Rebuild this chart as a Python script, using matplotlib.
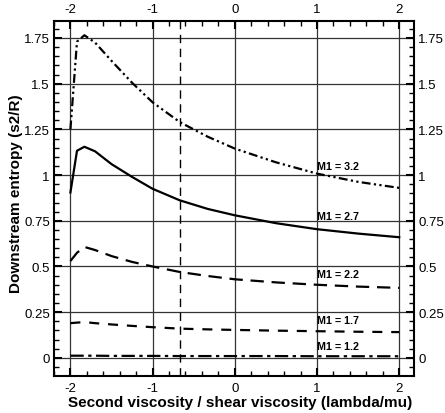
import matplotlib
matplotlib.use('Agg')
from matplotlib import pyplot as plt
from matplotlib.ticker import MultipleLocator, FormatStrFormatter
import numpy as np

plt.rcParams['font.family'] = ['Liberation Sans', 'DejaVu Sans']
plt.rcParams['axes.unicode_minus'] = False

#data
lam = [-2, -1.92, -1.83, -1.7, -1.5, -1.25, -1, -0.67, -0.33, 0, 0.5, 1, 1.5, 2]
s_m32 = [1.25, 1.73, 1.765, 1.725, 1.625, 1.505, 1.398, 1.29, 1.21, 1.145, 1.07, 1.008, 0.963, 0.93]
s_m27 = [0.905, 1.133, 1.155, 1.13, 1.06, 0.99, 0.925, 0.862, 0.815, 0.78, 0.737, 0.704, 0.68, 0.66]
s_m22 = [0.53, 0.575, 0.607, 0.59, 0.557, 0.525, 0.50, 0.47, 0.448, 0.43, 0.413, 0.40, 0.39, 0.383]
s_m17 = [0.19, 0.193, 0.196, 0.19, 0.183, 0.175, 0.168, 0.16, 0.156, 0.153, 0.149, 0.146, 0.143, 0.141]
s_m12 = [0.012, 0.012, 0.012, 0.012, 0.011, 0.011, 0.011, 0.01, 0.01, 0.01, 0.01, 0.009, 0.009, 0.009]
labels = ['M1 = 3.2', 'M1 = 2.7', 'M1 = 2.2', 'M1 = 1.7', 'M1 = 1.2']
label_y = [1.047, 0.778, 0.457, 0.21, 0.067]
lam_marker = -2/3

fig = plt.figure(figsize=(4.45, 4.14), dpi=100)
ax = fig.add_axes([0.1213, 0.0894, 0.809, 0.8575])

#grid first so the curves sit on top
ax.grid(True, which='major', color='#333333', linewidth=0.9)
ax.set_axisbelow(True)

ax.plot(lam, s_m32, color='black', lw=1.6, linestyle=(0, (4, 1.5, 1, 1.5, 1, 1.5)))
ax.plot(lam, s_m27, color='black', lw=1.6, linestyle='-')
ax.plot(lam, s_m22, color='black', lw=1.6, linestyle=(0, (6, 3.5)))
ax.plot(lam, s_m17, color='black', lw=1.6, linestyle=(0, (4.5, 4)))
ax.plot(lam, s_m12, color='black', lw=1.6, linestyle=(0, (6, 2, 1.5, 2)))
ax.axvline(lam_marker, color='black', lw=1.0, linestyle=(0, (6, 4)))

for txt, yy in zip(labels, label_y):
    ax.text(1.0, yy, txt, fontsize=7.7, fontweight='bold', ha='left', va='center')

ax.set_xlim(-2.2, 2.18)
ax.set_ylim(-0.099, 1.843)
ax.xaxis.set_major_locator(MultipleLocator(1))
ax.xaxis.set_minor_locator(MultipleLocator(0.2))
ax.yaxis.set_major_locator(MultipleLocator(0.25))
ax.yaxis.set_minor_locator(MultipleLocator(0.05))
ax.xaxis.set_major_formatter(FormatStrFormatter('%g'))
ax.yaxis.set_major_formatter(FormatStrFormatter('%g'))

ax.tick_params(which='both', direction='in', top=True, right=True,
               labeltop=True, labelright=True, labelsize=9.5)
ax.tick_params(which='major', length=6, width=1.5)
ax.tick_params(which='minor', length=3.5, width=1)
ax.tick_params(axis='y', pad=3)
ax.tick_params(axis='x', pad=4)
for sp in ax.spines.values():
    sp.set_linewidth(1.5)

ax.set_xlabel('Second viscosity / shear viscosity (lambda/mu)', fontsize=11, fontweight='bold')
ax.set_ylabel('Downstream entropy (s2/R)', fontsize=11, fontweight='bold')
ax.xaxis.set_label_coords(0.517, -0.073)
ax.yaxis.set_label_coords(-0.105, 0.515)
ax.xaxis.label.set_va('center')
ax.yaxis.label.set_va('center')

plt.savefig('out.png', dpi=100)
